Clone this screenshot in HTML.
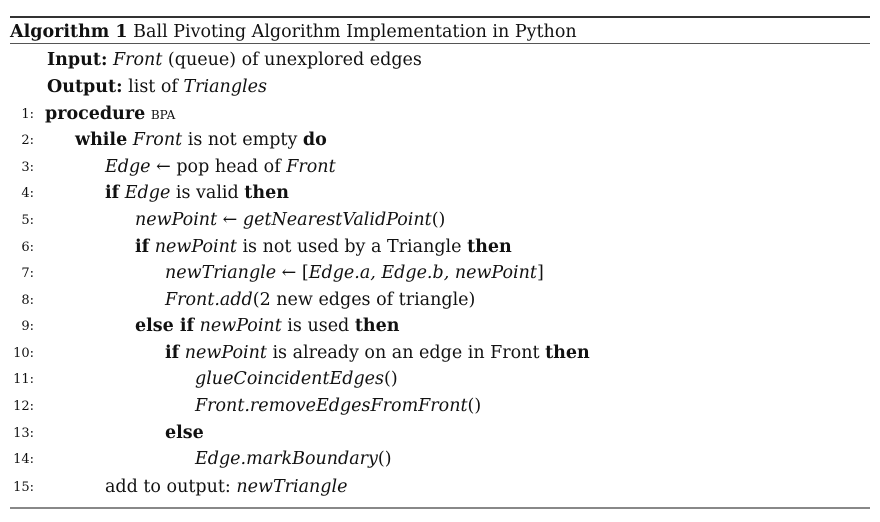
<!DOCTYPE html>
<html><head><meta charset="utf-8">
<style>
html,body{margin:0;padding:0;background:#fff;}
body{width:880px;height:522px;position:relative;overflow:hidden;font-family:"DejaVu Serif","Liberation Serif",serif;color:#111;font-size:17.5px;}
.rule{position:absolute;left:10px;width:860px;background:#555;}
.ln{position:absolute;white-space:nowrap;line-height:20px;}
.num{position:absolute;width:34px;left:0;text-align:right;font-size:13px;line-height:20px;}
i{font-style:italic;}
b{font-weight:bold;}
.sc{font-variant:small-caps;}
</style></head><body>
<div class="rule" style="top:16px;height:2px;background:#333"></div>
<div class="rule" style="top:43px;height:1px;"></div>
<div class="rule" style="top:507px;height:2px;background:#888"></div>

<div class="ln" style="left:10px;top:22px"><b>Algorithm 1</b> Ball Pivoting Algorithm Implementation in Python</div>
<div class="ln" style="left:47px;top:50px"><b>Input:</b> <i>Front</i> (queue) of unexplored edges</div>
<div class="ln" style="left:47px;top:77px"><b>Output:</b> list of <i>Triangles</i></div>

<div id="lines"></div>
<script>
const rows=[
 [0,'<b>procedure</b> <span class="sc">bpa</span>'],
 [1,'<b>while</b> <i>Front</i> is not empty <b>do</b>'],
 [2,'<i>Edge</i> ← pop head of <i>Front</i>'],
 [2,'<b>if</b> <i>Edge</i> is valid <b>then</b>'],
 [3,'<i>newPoint</i> ← <i>getNearestValidPoint</i>()'],
 [3,'<b>if</b> <i>newPoint</i> is not used by a Triangle <b>then</b>'],
 [4,'<i>newTriangle</i> ← [<i>Edge.a, Edge.b, newPoint</i>]'],
 [4,'<i>Front.add</i>(2 new edges of triangle)'],
 [3,'<b>else if</b> <i>newPoint</i> is used <b>then</b>'],
 [4,'<b>if</b> <i>newPoint</i> is already on an edge in Front <b>then</b>'],
 [5,'<i>glueCoincidentEdges</i>()'],
 [5,'<i>Front.removeEdgesFromFront</i>()'],
 [4,'<b>else</b>'],
 [5,'<i>Edge.markBoundary</i>()'],
 [2,'add to output: <i>newTriangle</i>']
];
const baselines=[118,144,171,197,224,251,277,304,330,357,383,410,437,463,491];
const host=document.getElementById('lines');
rows.forEach((r,k)=>{
  const top=baselines[k]-14;
  const n=document.createElement('div');
  n.className='num';
  
  
  n.style.top=(top+1)+'px';
  n.textContent=(k+1)+':';
  host.appendChild(n);
  const d=document.createElement('div');
  d.className='ln';
  
  
  d.style.left=(45+30*r[0])+'px';
  d.style.top=top+'px';
  d.innerHTML=r[1];
  host.appendChild(d);
});
</script>
</body></html>
